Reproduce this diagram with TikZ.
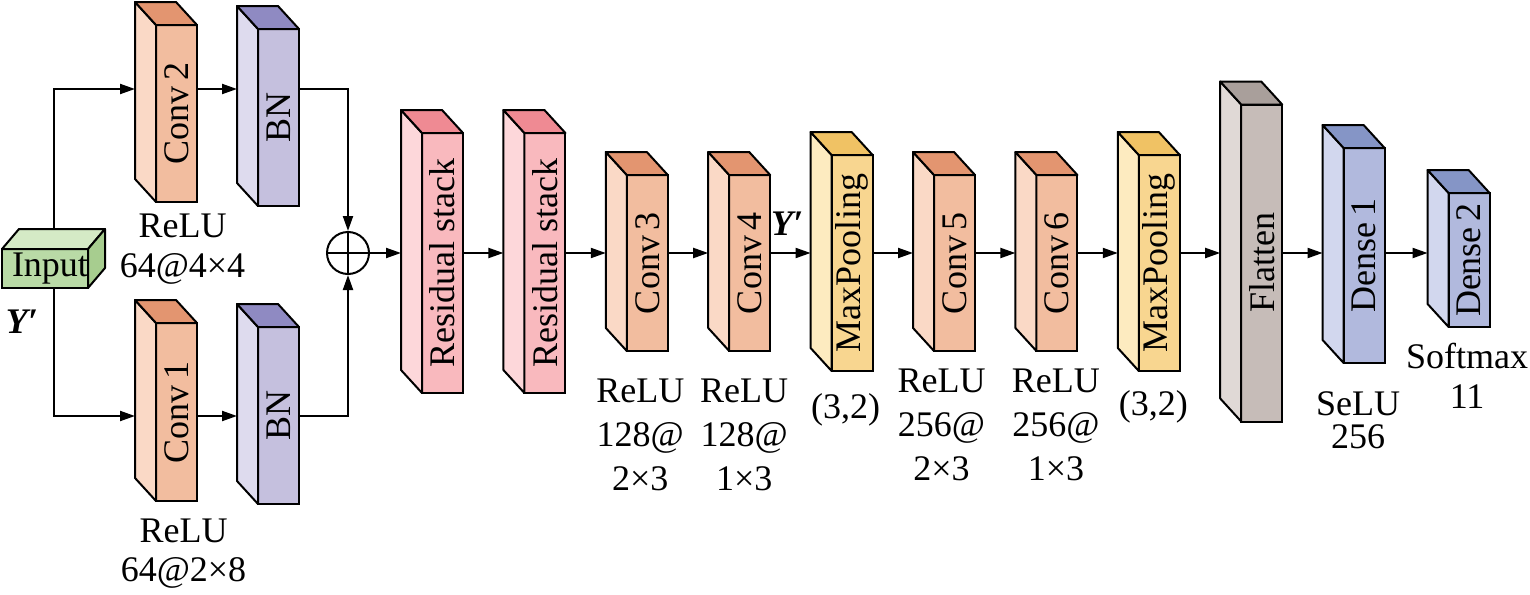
\documentclass[tikz,border=0pt]{standalone}
\usepackage{fontspec}
\setmainfont{Liberation Serif}
\usepackage{graphicx}
\usetikzlibrary{positioning,arrows.meta}
\definecolor{convF}{HTML}{F2BD9F}
\definecolor{convS}{HTML}{FAD9C6}
\definecolor{convT}{HTML}{E39570}
\definecolor{bnF}{HTML}{C5C0DE}
\definecolor{bnS}{HTML}{DEDBEE}
\definecolor{bnT}{HTML}{8F8AC2}
\definecolor{resF}{HTML}{F9B9BE}
\definecolor{resS}{HTML}{FDD7DA}
\definecolor{resT}{HTML}{EF8A93}
\definecolor{poolF}{HTML}{F8D690}
\definecolor{poolS}{HTML}{FDEBC0}
\definecolor{poolT}{HTML}{F0C264}
\definecolor{flatF}{HTML}{C6BCB8}
\definecolor{flatS}{HTML}{E0D9D6}
\definecolor{flatT}{HTML}{A99F9B}
\definecolor{denseF}{HTML}{B1B9DD}
\definecolor{denseS}{HTML}{D2D7EE}
\definecolor{denseT}{HTML}{8595C6}
\definecolor{inpF}{HTML}{B9DAA6}
\definecolor{inpS}{HTML}{A7CD8F}
\definecolor{inpT}{HTML}{D5EAC6}
\begin{document}
\begin{tikzpicture}[x=0.5pt,y=-0.5pt,
	slab/.style={draw,line width=1pt,fill=#1F,minimum width=20.5pt,inner sep=0pt,outer sep=0pt},
	lbl/.style={align=center,anchor=base,inner sep=0pt},
	arr/.style={line width=1pt,-{Triangle[length=7.5pt,width=5pt]}},
	node distance=30.7pt]
	\fontsize{18}{21}\selectfont
	\useasboundingbox (0,0) rectangle (1530,594);
	\coordinate (up) at (0,89);
	\coordinate (dn) at (0,416);
	\coordinate (ax) at (0,253);
	\node[slab=inp,minimum width=43pt,minimum height=19.5pt] (input) at (45,268.5) {\hspace*{5pt}Input};
	\node[slab=conv,minimum height=88.5pt] (conv2) at (176.5,113.5) {\rotatebox{90}{Conv\,2}};
	\node[slab=bn,minimum height=88.5pt] (bn2) at (278.5,117.5) {\rotatebox{90}{BN}};
	\node[slab=conv,minimum height=89pt] (conv1) at (176.5,412) {\rotatebox{90}{Conv\,1}};
	\node[slab=bn,minimum height=88.5pt] (bn1) at (278.5,415.5) {\rotatebox{90}{BN}};
	\node[circle,draw,line width=1pt,minimum size=21pt,inner sep=0pt] (add) at (348,253) {};
	\node[slab=res,minimum height=130pt] (res1) at (442.5,263) {\rotatebox{90}{Residual stack}};
	\node[slab=res,minimum height=130pt,right=of res1] (res2) {\rotatebox{90}{Residual stack}};
	\node[slab=conv,minimum height=88pt,right=of res2] (conv3) {\rotatebox{90}{Conv\,3}};
	\node[slab=conv,minimum height=88pt,right=of conv3] (conv4) {\rotatebox{90}{Conv\,4}};
	\node[slab=pool,minimum height=108pt,right=of conv4] (pool1) {\rotatebox{90}{MaxPooling}};
	\node[slab=conv,minimum height=88pt,right=of pool1] (conv5) {\rotatebox{90}{Conv\,5}};
	\node[slab=conv,minimum height=88pt,right=of conv5] (conv6) {\rotatebox{90}{Conv\,6}};
	\node[slab=pool,minimum height=108pt,right=of conv6] (pool2) {\rotatebox{90}{MaxPooling}};
	\node[slab=flat,minimum height=158.5pt,right=of pool2] (flat) {\rotatebox{90}{Flatten}};
	\node[slab=dense,minimum height=107.5pt,right=of flat,yshift=3.75pt] (dense1) {\rotatebox{90}{Dense\,1}};
	\node[slab=dense,minimum height=67pt,right=32pt of dense1,yshift=-2.25pt] (dense2) {\rotatebox{90}{Dense\,2}};
	\foreach \nm/\cl in {conv2/conv,bn2/bn,conv1/conv,bn1/bn,res1/res,res2/res,conv3/conv,conv4/conv,
		pool1/pool,conv5/conv,conv6/conv,pool2/pool,flat/flat,dense1/dense,dense2/dense}{
		\draw[line width=1pt,line join=round,fill=\cl S] (\nm.south west) -- (\nm.north west) -- ++(-21,-23)
			-- ([shift={(-21,-23)}]\nm.south west) -- cycle;
		\draw[line width=1pt,line join=round,fill=\cl T] (\nm.north west) -- (\nm.north east) -- ++(-21,-23)
			-- ([shift={(-21,-23)}]\nm.north west) -- cycle;
	}
	\draw[line width=1pt,line join=round,fill=inpT] (input.north west) -- ++(17,-20)
		-- ([shift={(17,-20)}]input.north east) -- (input.north east) -- cycle;
	\draw[line width=1pt,line join=round,fill=inpS] (input.north east) -- ++(17,-20)
		-- ([shift={(17,-20)}]input.south east) -- (input.south east) -- cycle;
	\draw[arr] ([shift={(8.5,-20)}]input.north) |- ([xshift=-10.5pt]conv2.west |- up);
	\draw[arr] ([xshift=4.25pt]input.south) |- ([xshift=-10.5pt]conv1.west |- dn);
	\draw[arr] (conv2.east |- up) -- ([xshift=-10.5pt]bn2.west |- up);
	\draw[arr] (conv1.east |- dn) -- ([xshift=-10.5pt]bn1.west |- dn);
	\draw[arr] (bn2.east |- up) -| (add.north);
	\draw[arr] (bn1.east |- dn) -| (add.south);
	\draw[line width=1pt] (add.north) -- (add.south) (add.west) -- (add.east);
	\draw[arr] (add.east) -- ([xshift=-10.5pt]res1.west |- ax);
	\foreach \a/\b in {res1/res2,res2/conv3,conv3/conv4,conv4/pool1,pool1/conv5,conv5/conv6,
		conv6/pool2,pool2/flat,flat/dense1,dense1/dense2}
		\draw[arr] (\a.east |- ax) -- ([xshift=-10.5pt]\b.west |- ax);
	\node[lbl,font=\bfseries\itshape] at ([xshift=-11.5pt,yshift=-22.5pt]input.south) {Y′};
	\node[lbl,font=\bfseries\itshape] at ([xshift=8.5pt,yshift=14pt]conv4.east) {Y′};
	\node[lbl,font={\fontsize{18}{20}\selectfont}] at ([xshift=3pt,yshift=-37.5pt]conv2.south) {ReLU\\64@4×4};
	\node[lbl,font={\fontsize{18}{19.5}\selectfont}] at ([xshift=3.5pt,yshift=-40pt]conv1.south) {ReLU\\64@2×8};
	\node[lbl,font={\fontsize{18}{22}\selectfont}] at ([xshift=-3.5pt,yshift=-69.5pt]conv3.south) {ReLU\\128@\\2×3};
	\node[lbl,font={\fontsize{18}{22}\selectfont}] at ([xshift=-2.75pt,yshift=-69.5pt]conv4.south) {ReLU\\128@\\1×3};
	\node[lbl] at ([xshift=-3.25pt,yshift=-23.5pt]pool1.south) {(3,2)};
	\node[lbl,font={\fontsize{18}{22}\selectfont}] at ([xshift=-6.5pt,yshift=-64.5pt]conv5.south) {ReLU\\256@\\2×3};
	\node[lbl,font={\fontsize{18}{22}\selectfont}] at ([xshift=-0.5pt,yshift=-64.5pt]conv6.south) {ReLU\\256@\\1×3};
	\node[lbl] at ([xshift=-3pt,yshift=-22pt]pool2.south) {(3,2)};
	\node[lbl,font={\fontsize{18}{16.5}\selectfont}] at ([xshift=-3pt,yshift=-42.5pt]dense1.south) {SeLU\\256};
	\node[lbl,font={\fontsize{18}{20}\selectfont}] at ([xshift=-1pt,yshift=-40.5pt]dense2.south) {Softmax\\11};
\end{tikzpicture}
\end{document}
